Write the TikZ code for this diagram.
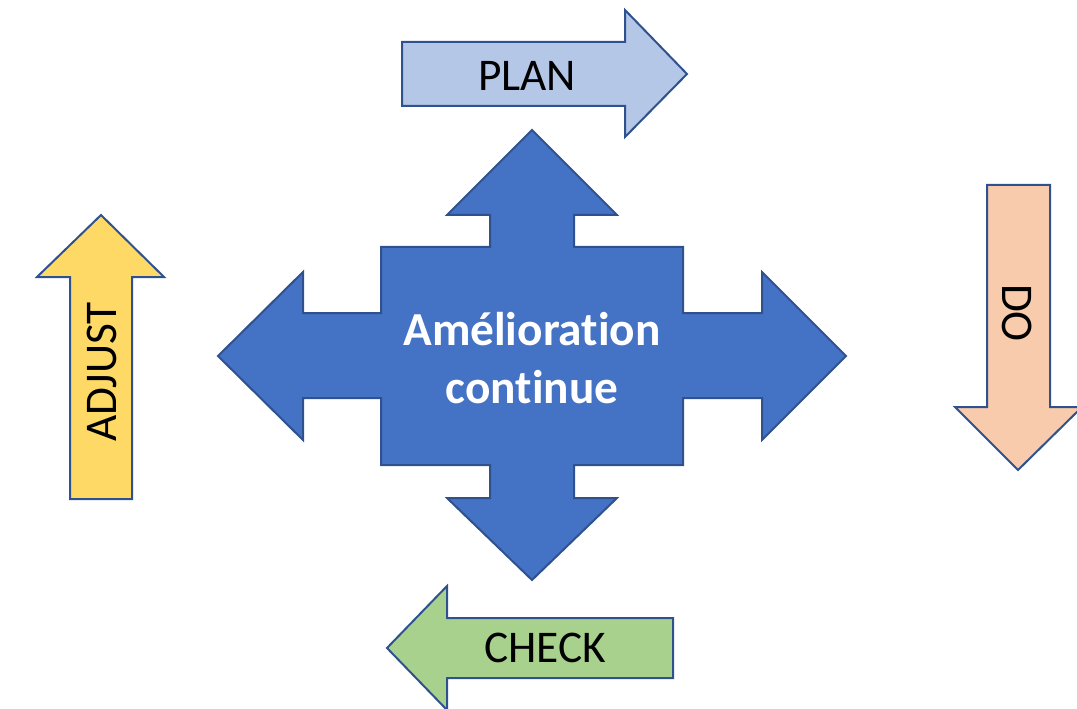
\documentclass[tikz,border=0pt]{standalone}
\usepackage{fontspec}
\setmainfont{Carlito}[Ligatures=NoCommon]
\usepackage{tikz}
\usetikzlibrary{positioning}

\definecolor{edgeblue}{HTML}{2F528F}
\definecolor{coreblue}{HTML}{4472C4}
\definecolor{planfill}{HTML}{B4C7E7}
\definecolor{dofill}{HTML}{F8CBAD}
\definecolor{checkfill}{HTML}{A9D18E}
\definecolor{adjustfill}{HTML}{FFD966}

\begin{document}
\begin{tikzpicture}[
    x=0.75pt, y=-0.75pt,
    blk/.style = {draw=edgeblue, line width=1.5pt, line join=miter},
    lbl/.style = {font=\fontsize{34}{40}\selectfont, inner sep=0pt},
    core/.style = {text=white, align=center, inner sep=0pt,
                font=\fontsize{35.5}{43}\selectfont\bfseries}
                    ]
\clip (0,0) rectangle (1077,709);

% the four step arrows
\draw[blk, fill=planfill] (402,42) -- (625,42) -- (625,10) -- (687,74)
    -- (625,137) -- (625,106) -- (402,106) -- cycle;
\draw[blk, fill=dofill] (987,185) -- (1050,185) -- (1050,407) -- (1082,407)
    -- (1018,470) -- (955,407) -- (987,407) -- cycle;
\draw[blk, fill=checkfill] (673,618) -- (447,618) -- (447,586) -- (387,648)
    -- (447,710) -- (447,678) -- (673,678) -- cycle;
\draw[blk, fill=adjustfill] (70,499) -- (70,277) -- (37,277) -- (101,215)
    -- (164,277) -- (132,277) -- (132,499) -- cycle;

% the big four-way arrow
\draw[blk, fill=coreblue] (532,130) -- (617,215) -- (574,215) -- (574,247)
    -- (683,247) -- (683,313) -- (762,313) -- (762,272) -- (846,356)
    -- (762,440) -- (762,398) -- (683,398) -- (683,465) -- (574,465)
    -- (574,498) -- (617,498) -- (532,580) -- (447,498) -- (490,498)
    -- (490,465) -- (381,465) -- (381,398) -- (303,398) -- (303,440)
    -- (218,356) -- (303,272) -- (303,313) -- (381,313) -- (381,247)
    -- (490,247) -- (490,215) -- (447,215) -- cycle;

\node (core) [core] at (532,358) {Amélioration\\ continue};

\node (plan) [lbl] at (527,76) {PLAN};
\node (do) [lbl, rotate=-90] at (1017,313) {DO};
\node (check) [lbl] at (545,648) {CHECK};
\node (adjust) [lbl, rotate=90] at (102,372) {ADJUST};

\end{tikzpicture}
\end{document}
